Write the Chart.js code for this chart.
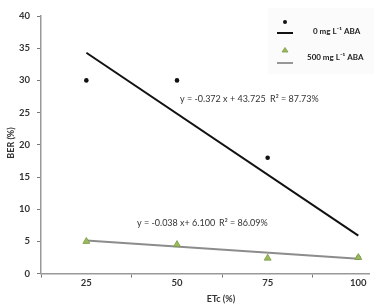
<!DOCTYPE html>
<html><head><meta charset="utf-8">
<script src="https://cdn.jsdelivr.net/npm/chart.js@4/dist/chart.umd.min.js"></script>
<style>html,body{margin:0;padding:0;background:#fff;overflow:hidden}canvas{display:block}</style>
</head><body>
<canvas id="c" width="374" height="306"></canvas>
<script>
const etc = [25, 50, 75, 100];
const ber0 = [30, 30, 18, 2.5];
const ber500 = [5.0, 4.5, 2.4, 2.5];
const trend0 = [34.3, 5.9];          // fitted line read at 25 and 100
const trend500 = [5.15, 2.3];        // fitted line read at 25 and 100
const trendX = [25, 100];
const yTicks = [0, 5, 10, 15, 20, 25, 30, 35, 40];
const xTickPositions = [12.5, 25, 37.5, 50, 62.5, 75, 87.5, 100];
const xTitle = 'ETc (%)';
const yTitle = 'BER (%)';
const legendLabels = ['0 mg L\u207B\u00B9 ABA', '500 mg L\u207B\u00B9 ABA'];
const eqLabels = [['y = -0.372 x + 43.725', 'R\u00B2 = 87.73%'], ['y = -0.038 x+ 6.100', 'R\u00B2 = 86.09%']];

const pts = (xs, ys) => xs.map((v, i) => ({x: v, y: ys[i]}));
const FONT = 'Lato, "Open Sans", sans-serif';

const legendBg = {
  id: 'legendBg',
  beforeDraw(chart) {
    const ctx = chart.ctx;
    ctx.save();
    ctx.fillStyle = '#fbfbfb';
    ctx.fillRect(268, 8, 106, 66);
    ctx.restore();
  }
};

const annot = {
  id: 'annot',
  afterDraw(chart) {
    const ctx = chart.ctx;
    ctx.save();
    ctx.textBaseline = 'middle';
    // axis titles
    ctx.fillStyle = '#333';
    ctx.font = 'bold 9px ' + FONT;
    ctx.textAlign = 'center';
    ctx.fillText(xTitle, 221, 299);
    ctx.save();
    ctx.translate(11, 143);
    ctx.rotate(-Math.PI / 2);
    ctx.fillText(yTitle, 0, 0);
    ctx.restore();
    // equations
    ctx.textAlign = 'left';
    ctx.font = '9px ' + FONT;
    ctx.fillText(eqLabels[0][0], 180, 99);
    ctx.fillText(eqLabels[0][1], 270, 99);
    ctx.fillText(eqLabels[1][0], 137, 223);
    ctx.fillText(eqLabels[1][1], 219, 223);
    // legend
    ctx.fillStyle = '#111';
    ctx.beginPath(); ctx.arc(285, 22, 2, 0, Math.PI * 2); ctx.fill();
    ctx.strokeStyle = '#111'; ctx.lineWidth = 2;
    ctx.beginPath(); ctx.moveTo(277, 33); ctx.lineTo(293, 33); ctx.stroke();
    ctx.fillStyle = '#9bbb59'; ctx.strokeStyle = '#7a9a48'; ctx.lineWidth = 0.8;
    ctx.beginPath(); ctx.moveTo(285, 47.5); ctx.lineTo(288, 52); ctx.lineTo(282, 52); ctx.closePath(); ctx.fill(); ctx.stroke();
    ctx.strokeStyle = '#8c8c8c'; ctx.lineWidth = 1.8;
    ctx.beginPath(); ctx.moveTo(277, 63); ctx.lineTo(293, 63); ctx.stroke();
    ctx.fillStyle = '#222';
    ctx.font = 'bold 8px ' + FONT;
    ctx.fillText(legendLabels[0], 313, 31);
    ctx.fillText(legendLabels[1], 307, 57);
    ctx.restore();
  }
};

new Chart(document.getElementById('c'), {
  type: 'scatter',
  data: {
    datasets: [
      {label: 'trend0', data: pts(trendX, trend0), showLine: true, borderColor: '#111', borderWidth: 2, pointRadius: 0, order: 3},
      {label: 'trend500', data: pts(trendX, trend500), showLine: true, borderColor: '#8c8c8c', borderWidth: 2, pointRadius: 0, order: 4},
      {label: legendLabels[0], data: pts(etc, ber0), pointStyle: 'circle', pointRadius: 2.3, backgroundColor: '#111', borderColor: '#111', borderWidth: 0, order: 2},
      {label: legendLabels[1], data: pts(etc, ber500), pointStyle: 'triangle', pointRadius: 4, backgroundColor: '#9bbb59', borderColor: '#7a9a48', borderWidth: 0.8, order: 1}
    ]
  },
  options: {
    responsive: false,
    animation: false,
    layout: {padding: {top: 16, right: 0, left: 12, bottom: 17}},
    plugins: {legend: {display: false}, tooltip: {enabled: false}},
    scales: {
      x: {
        type: 'linear', min: 12.5, max: 103,
        afterBuildTicks: s => { s.ticks = xTickPositions.map(v => ({value: v})); },
        grid: {drawOnChartArea: false, tickLength: 4,
               color: c => (c.tick && c.tick.value % 25 === 0) ? 'rgba(0,0,0,0)' : '#777'},
        border: {color: '#999', width: 1.5},
        ticks: {autoSkip: false, maxRotation: 0, padding: 0, color: '#333',
                font: {family: FONT, size: 9.5, weight: 'bold'},
                callback: v => (v % 25 === 0 ? String(v) : '')}
      },
      y: {
        min: 0, max: 40,
        afterBuildTicks: s => { s.ticks = yTicks.map(v => ({value: v})); },
        grid: {drawOnChartArea: false, tickLength: 4, color: '#777'},
        border: {color: '#999', width: 1.5},
        ticks: {padding: 7, color: '#333', font: {family: FONT, size: 9.5, weight: 'bold'}}
      }
    }
  },
  plugins: [legendBg, annot]
});
</script>
</body></html>
